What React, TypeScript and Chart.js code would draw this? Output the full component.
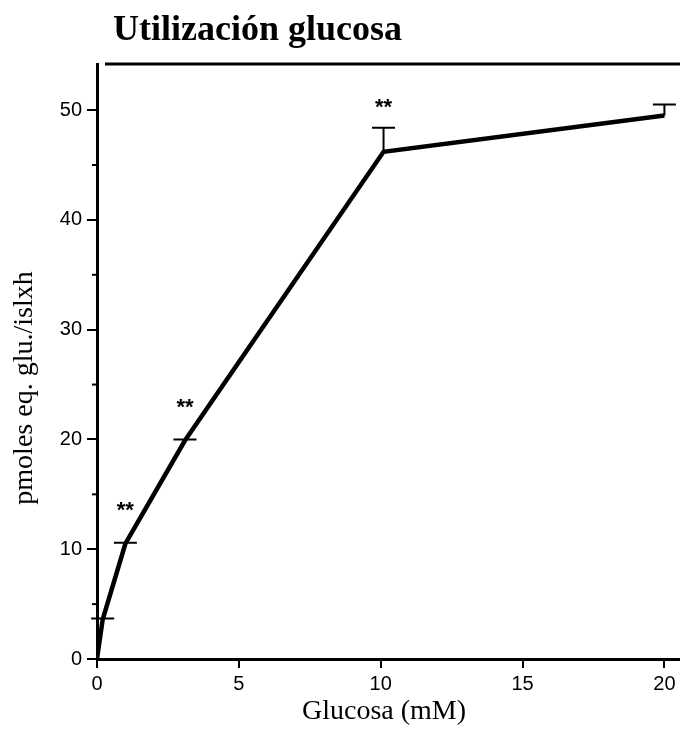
import React, { useEffect, useRef } from "react";
import { Chart, registerables } from "chart.js";

Chart.register(...registerables);

// Glucose concentration (mM) and measured utilization
const glucose = [0, 0.2, 1, 3.1, 10.1, 20];
const utilization = [0, 3.6, 10.5, 19.9, 46.2, 49.5];
const errorUp = [0, 0.1, 0.1, 0.1, 2.2, 1.0];
const significance = ["", "", "**", "**", "**", ""];

const yMinorTicks = [5, 15, 25, 35, 45];

const chartTitle = "Utilización glucosa";
const xTitle = "Glucosa (mM)";
const yTitle = "pmoles eq. glu./islxh";

const SERIF = "'Liberation Serif', 'Times New Roman', serif";
const SANS = "'Liberation Sans', Arial, sans-serif";

const decorations = {
  id: "decorations",
  afterDatasetsDraw(chart: any) {
    const { ctx, chartArea, scales } = chart;
    const x = scales.x;
    const y = scales.y;
    ctx.save();
    ctx.strokeStyle = "#000";
    ctx.fillStyle = "#000";

    // frame top border
    ctx.lineWidth = 3;
    ctx.beginPath();
    ctx.moveTo(chartArea.left + 8, chartArea.top);
    ctx.lineTo(chartArea.right, chartArea.top);
    ctx.stroke();

    // minor ticks on the y axis
    ctx.lineWidth = 2;
    yMinorTicks.forEach((v) => {
      const py = y.getPixelForValue(v);
      ctx.beginPath();
      ctx.moveTo(chartArea.left - 5, py);
      ctx.lineTo(chartArea.left, py);
      ctx.stroke();
    });

    // error bars (upper half) and significance marks
    glucose.forEach((g, i) => {
      if (i === 0) return;
      const px = x.getPixelForValue(g);
      const pm = y.getPixelForValue(utilization[i]);
      const pc = y.getPixelForValue(utilization[i] + errorUp[i]);
      ctx.lineWidth = 2;
      ctx.beginPath();
      ctx.moveTo(px, pm);
      ctx.lineTo(px, pc);
      ctx.moveTo(px - 11.5, pc);
      ctx.lineTo(px + 11.5, pc);
      ctx.stroke();
      if (significance[i]) {
        const py = Math.min(pm - 37, pc - 24);
        ctx.font = `bold 22px ${SANS}`;
        ctx.textAlign = "center";
        ctx.textBaseline = "middle";
        ctx.fillText(significance[i], px, py + 4);
      }
    });

    // titles
    ctx.textBaseline = "alphabetic";
    ctx.textAlign = "left";
    ctx.font = `bold 36px ${SERIF}`;
    ctx.fillText(chartTitle, 113, 40);

    ctx.textAlign = "center";
    ctx.textBaseline = "middle";
    ctx.font = `28px ${SERIF}`;
    ctx.fillText(xTitle, 384, 712);

    ctx.translate(25, 388);
    ctx.rotate(-Math.PI / 2);
    ctx.font = `28px ${SERIF}`;
    ctx.fillText(yTitle, 0, 0);
    ctx.restore();
  },
};

export default function App() {
  const canvasRef = useRef<HTMLCanvasElement | null>(null);

  useEffect(() => {
    if (!canvasRef.current) return;
    const chart = new Chart(canvasRef.current, {
      type: "line",
      data: {
        datasets: [
          {
            data: glucose.map((g, i) => ({ x: g, y: utilization[i] })),
            borderColor: "#000",
            borderWidth: 4.5,
            pointRadius: 0,
            tension: 0,
            fill: false,
          },
        ],
      },
      options: {
        animation: false,
        responsive: false,
        maintainAspectRatio: false,
        layout: { padding: { top: 64, left: 0, right: 0, bottom: 0 } },
        plugins: {
          legend: { display: false },
          title: { display: false },
          tooltip: { enabled: false },
        },
        scales: {
          x: {
            type: "linear",
            min: 0,
            max: 20.55,
            afterFit: (s: any) => {
              s.height = 85;
            },
            border: { display: true, color: "#000", width: 3 },
            grid: {
              display: true,
              drawOnChartArea: false,
              drawTicks: true,
              tickLength: 9,
              color: "#000",
              lineWidth: 2,
            },
            ticks: {
              stepSize: 5,
              includeBounds: false,
              maxRotation: 0,
              padding: 4,
              color: "#000",
              font: { family: SANS, size: 20 },
            },
          },
          y: {
            type: "linear",
            min: 0,
            max: 54.2,
            afterFit: (s: any) => {
              s.width = 97;
            },
            border: { display: true, color: "#000", width: 3 },
            grid: {
              display: true,
              drawOnChartArea: false,
              drawTicks: true,
              tickLength: 10,
              color: "#000",
              lineWidth: 2,
            },
            ticks: {
              stepSize: 10,
              includeBounds: false,
              padding: 5,
              color: "#000",
              font: { family: SANS, size: 20 },
            },
          },
        },
      },
      plugins: [decorations],
    });
    return () => chart.destroy();
  }, []);

  return (
    <div style={{ position: "absolute", left: 0, top: 0, width: 680, height: 744, background: "#fff" }}>
      <canvas ref={canvasRef} width={680} height={744} style={{ display: "block", width: 680, height: 744 }} />
    </div>
  );
}
